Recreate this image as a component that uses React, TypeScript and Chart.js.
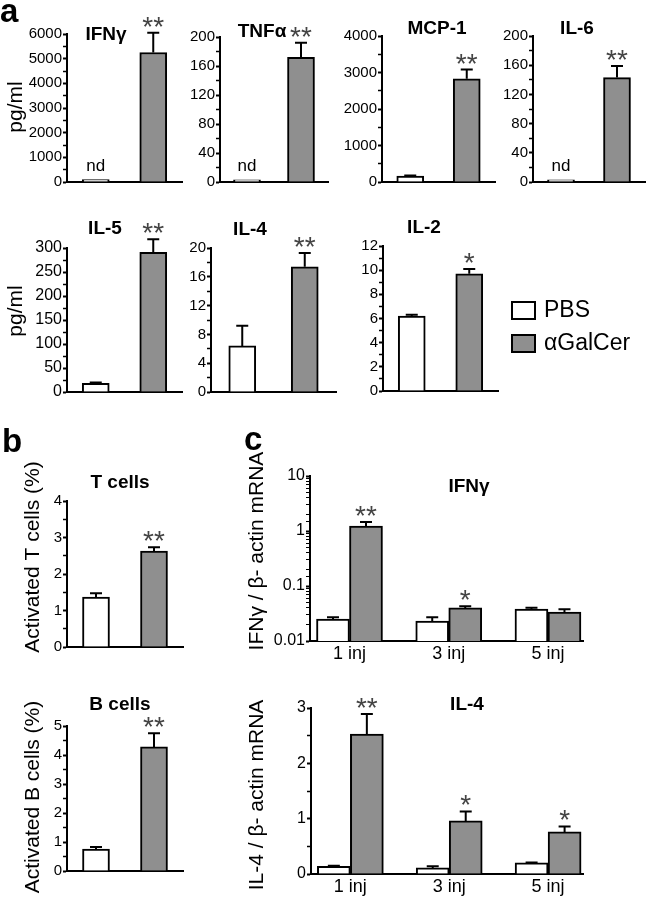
import React, { useEffect, useRef } from 'react';
import { Chart, registerables } from 'chart.js';

Chart.register(...registerables);

const SANS = '"Liberation Sans", Arial, Helvetica, sans-serif';
Chart.defaults.font.family = SANS;
Chart.defaults.color = '#000';

// ---------------- data ----------------
const groupLabels = ['PBS', 'αGalCer'];
const groupColors = ['#ffffff', '#8f8f8f'];

// panel a: serum cytokines (pg/ml)
const cytokineNames = ['IFNγ', 'TNFα', 'MCP-1', 'IL-6', 'IL-5', 'IL-4', 'IL-2'];
const cytokinePBS = [100, 3, 160, 3, 18, 6.4, 6.2];
const cytokinePBSErr = [0, 0, 15, 0, 2, 2.8, 0.12];
const cytokineAGC = [5250, 172, 2830, 143, 291, 17.4, 9.7];
const cytokineAGCErr = [800, 20, 250, 16, 27, 1.9, 0.4];
const cytokineSig = ['**', '**', '**', '**', '**', '**', '*'];
const cytokinePBSNote = ['nd', 'nd', '', 'nd', '', '', ''];
const cytokineAxisMax = [6000, 200, 4000, 200, 300, 20, 12];
const cytokineLabelStep = [1000, 40, 1000, 40, 50, 4, 2];
const cytokineMinorStep = [500, 20, 500, 20, 25, 2, 1];

// panel b: activated cells (%)
const cellTitles = ['T cells', 'B cells'];
const cellAxisTitles = ['Activated T cells (%)', 'Activated B cells (%)'];
const cellPBS = [1.37, 0.76];
const cellPBSErr = [0.1, 0.07];
const cellAGC = [2.63, 4.28];
const cellAGCErr = [0.1, 0.47];
const cellSig = ['**', '**'];
const cellAxisMax = [4, 5];

// panel c: mRNA relative to beta-actin
const injLabels = ['1 inj', '3 inj', '5 inj'];
const injX = [1, 2, 3];
const ifngMrnaPBS = [0.025, 0.0231, 0.0382];
const ifngMrnaPBSErr = [0.002, 0.004, 0.002];
const ifngMrnaAGC = [1.23, 0.04, 0.0337];
const ifngMrnaAGCErr = [0.23, 0.003, 0.004];
const ifngMrnaSig = ['**', '*', ''];
const logTickLabels = ['0.01', '0.1', '1', '10'];
const il4MrnaPBS = [0.14, 0.11, 0.2];
const il4MrnaPBSErr = [0.01, 0.03, 0.01];
const il4MrnaAGC = [2.53, 0.96, 0.76];
const il4MrnaAGCErr = [0.36, 0.17, 0.1];
const il4MrnaSig = ['**', '*', '*'];
const mrnaTitles = ['IFNγ', 'IL-4'];
const mrnaAxisTitles = ['IFNγ / β- actin mRNA', 'IL-4 / β- actin mRNA'];

// ---------------- layout ----------------
type Box = [number, number, number, number];
const cytokineCanvas: Box[] = [
  [0, 0, 190, 194], [170, 0, 166, 194], [330, 0, 175, 194], [490, 0, 160, 194],
  [0, 200, 190, 204], [165, 200, 175, 204], [335, 200, 315, 204],
];
const cytokineArea: Box[] = [
  [67, 34, 182, 182], [220, 37, 328, 182], [382, 36, 495, 182], [533, 36, 645, 182],
  [67, 248, 182, 392], [211, 248, 336, 392], [383, 246, 498, 391],
];
const cytokineTitlePos = [[106, 40], [262, 37], [437, 34], [577, 34], [105, 234], [250, 235], [424, 233]];
const cytokineTickFont = [15, 15, 15, 15, 16, 15, 15];
const cellCanvas: Box[] = [[0, 420, 200, 244], [0, 665, 200, 234]];
const cellArea: Box[] = [[67, 501, 183, 647], [67, 726, 183, 871]];
const cellTitlePos = [[120, 488], [120, 710]];
const cellAxisTitlePos = [[33, 557], [33, 797]];
const mrnaCanvas: Box[] = [[215, 420, 435, 250], [215, 670, 435, 229]];
const mrnaArea: Box[] = [[310, 476, 583, 641], [311, 708, 583, 874]];
const mrnaTitlePos = [[469, 492], [467, 710]];
const mrnaAxisTitlePos = [[257, 551], [257, 795]];
const mrnaXRange = [0.602, 3.353];
const legendPos = { x: 511, y: 301, gap: 33 };

type TextItem = {
  text: string; x: number; y: number; font: string;
  align?: CanvasTextAlign; baseline?: CanvasTextBaseline; rotate?: number; color?: string;
};

const TITLE_FONT = `bold 19px ${SANS}`;
const AXIS_TITLE_FONT = `21px ${SANS}`;
const LETTER_FONT = `bold 33px ${SANS}`;

// ---------------- plugins ----------------
function textPlugin(items: TextItem[], origin: Box) {
  return {
    id: 'freeText',
    afterDraw(chart: any) {
      const ctx = chart.ctx;
      for (const it of items) {
        ctx.save();
        ctx.translate(it.x - origin[0], it.y - origin[1]);
        if (it.rotate) ctx.rotate(it.rotate);
        ctx.font = it.font;
        ctx.fillStyle = it.color || '#000';
        ctx.textAlign = it.align || 'center';
        ctx.textBaseline = it.baseline || 'alphabetic';
        ctx.fillText(it.text, 0, 0);
        ctx.restore();
      }
    },
  };
}

const errorBarPlugin = {
  id: 'errorBars',
  afterDatasetsDraw(chart: any) {
    const ctx = chart.ctx;
    const yScale = chart.scales.y;
    chart.data.datasets.forEach((ds: any, i: number) => {
      const meta = chart.getDatasetMeta(i);
      meta.data.forEach((el: any, j: number) => {
        const raw = ds.data[j];
        const v = raw !== null && typeof raw === 'object' ? raw.y : raw;
        if (v === null || v === undefined) return;
        const e = (ds.errors && ds.errors[j]) || 0;
        const x = el.x;
        const yv = yScale.getPixelForValue(v);
        const ye = yScale.getPixelForValue(v + e);
        if (e > 0) {
          ctx.save();
          ctx.strokeStyle = '#000';
          ctx.lineWidth = 2;
          ctx.beginPath();
          ctx.moveTo(x, yv);
          ctx.lineTo(x, ye);
          ctx.moveTo(x - 6, ye);
          ctx.lineTo(x + 6, ye);
          ctx.stroke();
          ctx.restore();
        }
        const mark = ds.marks && ds.marks[j];
        if (mark) {
          ctx.save();
          ctx.font = `28px ${SANS}`;
          ctx.fillStyle = '#444';
          ctx.textAlign = 'center';
          ctx.textBaseline = 'alphabetic';
          ctx.fillText(mark, x, ye + 3);
          ctx.restore();
        }
        const note = ds.notes && ds.notes[j];
        if (note) {
          ctx.save();
          ctx.font = `17px ${SANS}`;
          ctx.fillStyle = '#000';
          ctx.textAlign = 'center';
          ctx.textBaseline = 'alphabetic';
          ctx.fillText(note, x, yv - 9);
          ctx.restore();
        }
      });
    });
  },
};

function legendPlugin(origin: Box) {
  return {
    id: 'boxLegend',
    afterDraw(chart: any) {
      const ctx = chart.ctx;
      chart.data.datasets.forEach((ds: any, i: number) => {
        const bx = legendPos.x - origin[0];
        const by = legendPos.y + i * legendPos.gap - origin[1];
        ctx.save();
        ctx.fillStyle = ds.backgroundColor;
        ctx.fillRect(bx, by, 25, 19);
        ctx.strokeStyle = '#000';
        ctx.lineWidth = 2;
        ctx.strokeRect(bx + 1, by + 1, 23, 17);
        ctx.fillStyle = '#000';
        ctx.font = `23px ${SANS}`;
        ctx.textAlign = 'left';
        ctx.textBaseline = 'middle';
        ctx.fillText(ds.label, bx + 33, by + 10);
        ctx.restore();
      });
    },
  };
}

// ---------------- config builders ----------------
function frame(canvas: Box, area: Box) {
  const [cx, cy, cw, ch] = canvas;
  const [l, t, r, b] = area;
  return { yWidth: l - cx, xHeight: cy + ch - b, padTop: t - cy, padRight: cx + cw - r };
}

const isMultiple = (v: number, step: number) => Math.abs(v / step - Math.round(v / step)) < 1e-6;

function linearY(max: number, labelStep: number, minorStep: number, width: number, fontSize: number) {
  return {
    type: 'linear',
    min: 0,
    max,
    ticks: {
      stepSize: minorStep,
      autoSkip: false,
      padding: 1,
      color: '#000',
      font: { size: fontSize, family: SANS },
      callback: (v: number) => (isMultiple(v, labelStep) ? String(v) : ''),
    },
    grid: {
      drawOnChartArea: false,
      drawTicks: true,
      tickLength: 4,
      tickColor: '#000',
      tickWidth: (c: any) => (c.tick && isMultiple(c.tick.value, labelStep) ? 2 : 1.5),
    },
    border: { color: '#000', width: 2 },
    afterFit: (s: any) => { s.width = width; },
  };
}

function logY(width: number) {
  return {
    type: 'logarithmic',
    min: 0.01,
    max: 10,
    ticks: {
      autoSkip: false,
      padding: 1,
      color: '#000',
      font: { size: 16, family: SANS },
      callback: (v: number) => {
        const e = Math.log10(v);
        const r = Math.round(e);
        return Math.abs(e - r) < 1e-6 ? logTickLabels[r + 2] : '';
      },
    },
    grid: {
      drawOnChartArea: false,
      drawTicks: true,
      tickLength: 4,
      tickColor: '#000',
      tickWidth: (c: any) => {
        if (!c.tick) return 1;
        const e = Math.log10(c.tick.value);
        return Math.abs(e - Math.round(e)) < 1e-6 ? 2 : 1;
      },
    },
    border: { color: '#000', width: 2 },
    afterFit: (s: any) => { s.width = width; },
  };
}

function baseOptions(f: ReturnType<typeof frame>) {
  return {
    responsive: false,
    animation: false,
    devicePixelRatio: 1,
    events: [],
    layout: { padding: { left: 0, top: f.padTop, right: f.padRight, bottom: 0 } },
    plugins: { legend: { display: false }, title: { display: false }, tooltip: { enabled: false } },
  };
}

const barStyle = { borderColor: '#000', borderWidth: 2, borderSkipped: 'start' };

function pairConfig(p: {
  canvas: Box; area: Box; pbs: number; pbsErr: number; agc: number; agcErr: number;
  sig: string; note: string; max: number; labelStep: number; minorStep: number; tickFont: number;
  texts: TextItem[]; legend?: boolean;
}) {
  const f = frame(p.canvas, p.area);
  const plugins: any[] = [errorBarPlugin, textPlugin(p.texts, p.canvas)];
  if (p.legend) plugins.push(legendPlugin(p.canvas));
  return {
    type: 'bar',
    data: {
      labels: groupLabels,
      datasets: [
        {
          label: groupLabels[0], data: [p.pbs, null], errors: [p.pbsErr, null], marks: ['', ''],
          notes: [p.note, ''], backgroundColor: groupColors[0], barThickness: 27, skipNull: true, ...barStyle,
        },
        {
          label: groupLabels[1], data: [null, p.agc], errors: [null, p.agcErr], marks: ['', p.sig],
          notes: ['', ''], backgroundColor: groupColors[1], barThickness: 27, skipNull: true, ...barStyle,
        },
      ],
    },
    options: {
      ...baseOptions(f),
      scales: {
        x: {
          type: 'category',
          z: 1,
          ticks: { display: false },
          grid: { display: false, drawTicks: false },
          border: { color: '#000', width: 2 },
          afterFit: (s: any) => { s.height = f.xHeight; },
        },
        y: linearY(p.max, p.labelStep, p.minorStep, f.yWidth, p.tickFont),
      },
    },
    plugins,
  };
}

function injConfig(p: {
  canvas: Box; area: Box; pbs: number[]; pbsErr: number[]; agc: number[]; agcErr: number[];
  sig: string[]; log: boolean; texts: TextItem[];
}) {
  const f = frame(p.canvas, p.area);
  return {
    type: 'bar',
    data: {
      datasets: [
        {
          label: groupLabels[0], data: injX.map((x, i) => ({ x, y: p.pbs[i] })), errors: p.pbsErr,
          marks: injX.map(() => ''), backgroundColor: groupColors[0], barThickness: 33, ...barStyle,
        },
        {
          label: groupLabels[1], data: injX.map((x, i) => ({ x, y: p.agc[i] })), errors: p.agcErr,
          marks: p.sig, backgroundColor: groupColors[1], barThickness: 33, ...barStyle,
        },
      ],
    },
    options: {
      ...baseOptions(f),
      scales: {
        x: {
          type: 'linear',
          min: mrnaXRange[0],
          max: mrnaXRange[1],
          offset: false,
          z: 1,
          afterBuildTicks: (s: any) => { s.ticks = injX.map((v) => ({ value: v })); },
          ticks: {
            autoSkip: false,
            maxRotation: 0,
            padding: 2,
            color: '#000',
            font: { size: 18, family: SANS },
            callback: (v: number) => { const k = injX.indexOf(v); return k >= 0 ? injLabels[k] : ''; },
          },
          grid: { display: false, drawTicks: false, offset: false },
          border: { color: '#000', width: 2 },
          afterFit: (s: any) => { s.height = f.xHeight; },
        },
        y: p.log ? logY(f.yWidth) : linearY(3, 1, 0.5, f.yWidth, 16),
      },
    },
    plugins: [errorBarPlugin, textPlugin(p.texts, p.canvas)],
  };
}

// ---------------- panel list ----------------
type Panel = { id: string; canvas: Box; build: () => any };

const rot = -Math.PI / 2;
const panels: Panel[] = [];

cytokineNames.forEach((name, i) => {
  const texts: TextItem[] = [
    { text: name, x: cytokineTitlePos[i][0], y: cytokineTitlePos[i][1], font: TITLE_FONT },
  ];
  if (i === 0) {
    texts.push({ text: 'a', x: 0, y: 22, font: LETTER_FONT, align: 'left' });
    texts.push({ text: 'pg/ml', x: 16, y: 107, font: `21px ${SANS}`, rotate: rot, baseline: 'middle' });
  }
  if (i === 4) {
    texts.push({ text: 'pg/ml', x: 16, y: 311, font: `21px ${SANS}`, rotate: rot, baseline: 'middle' });
  }
  panels.push({
    id: 'cyt' + i,
    canvas: cytokineCanvas[i],
    build: () => pairConfig({
      canvas: cytokineCanvas[i], area: cytokineArea[i],
      pbs: cytokinePBS[i], pbsErr: cytokinePBSErr[i], agc: cytokineAGC[i], agcErr: cytokineAGCErr[i],
      sig: cytokineSig[i], note: cytokinePBSNote[i], max: cytokineAxisMax[i],
      labelStep: cytokineLabelStep[i], minorStep: cytokineMinorStep[i], tickFont: cytokineTickFont[i],
      texts, legend: i === 6,
    }),
  });
});

cellTitles.forEach((name, i) => {
  const texts: TextItem[] = [
    { text: name, x: cellTitlePos[i][0], y: cellTitlePos[i][1], font: TITLE_FONT },
    { text: cellAxisTitles[i], x: cellAxisTitlePos[i][0], y: cellAxisTitlePos[i][1], font: AXIS_TITLE_FONT, rotate: rot, baseline: 'middle' },
  ];
  if (i === 0) texts.push({ text: 'b', x: 2, y: 452, font: LETTER_FONT, align: 'left' });
  panels.push({
    id: 'cell' + i,
    canvas: cellCanvas[i],
    build: () => pairConfig({
      canvas: cellCanvas[i], area: cellArea[i],
      pbs: cellPBS[i], pbsErr: cellPBSErr[i], agc: cellAGC[i], agcErr: cellAGCErr[i],
      sig: cellSig[i], note: '', max: cellAxisMax[i], labelStep: 1, minorStep: 0.5, tickFont: 15, texts,
    }),
  });
});

mrnaTitles.forEach((name, i) => {
  const texts: TextItem[] = [
    { text: name, x: mrnaTitlePos[i][0], y: mrnaTitlePos[i][1], font: TITLE_FONT },
    { text: mrnaAxisTitles[i], x: mrnaAxisTitlePos[i][0], y: mrnaAxisTitlePos[i][1], font: AXIS_TITLE_FONT, rotate: rot, baseline: 'middle' },
  ];
  if (i === 0) texts.push({ text: 'c', x: 244, y: 450, font: LETTER_FONT, align: 'left' });
  const isIfng = i === 0;
  panels.push({
    id: 'mrna' + i,
    canvas: mrnaCanvas[i],
    build: () => injConfig({
      canvas: mrnaCanvas[i], area: mrnaArea[i],
      pbs: isIfng ? ifngMrnaPBS : il4MrnaPBS, pbsErr: isIfng ? ifngMrnaPBSErr : il4MrnaPBSErr,
      agc: isIfng ? ifngMrnaAGC : il4MrnaAGC, agcErr: isIfng ? ifngMrnaAGCErr : il4MrnaAGCErr,
      sig: isIfng ? ifngMrnaSig : il4MrnaSig, log: isIfng, texts,
    }),
  });
});

// ---------------- components ----------------
function PanelChart({ panel }: { panel: Panel }) {
  const ref = useRef<HTMLCanvasElement>(null);
  useEffect(() => {
    if (!ref.current) return;
    const chart = new Chart(ref.current, panel.build());
    return () => chart.destroy();
  }, [panel]);
  const [x, y, w, h] = panel.canvas;
  return (
    <canvas
      ref={ref}
      width={w}
      height={h}
      style={{ position: 'absolute', left: x, top: y, width: w, height: h }}
    />
  );
}

export default function App() {
  return (
    <div style={{ position: 'absolute', left: 0, top: 0, width: 650, height: 899, background: '#fff', overflow: 'hidden' }}>
      {panels.map((p) => (
        <PanelChart key={p.id} panel={p} />
      ))}
    </div>
  );
}
